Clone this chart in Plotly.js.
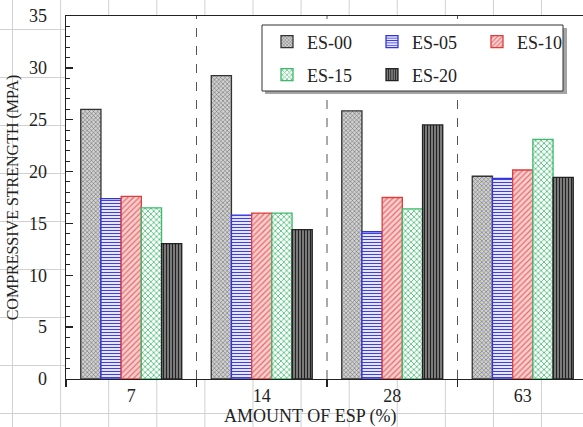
<!DOCTYPE html>
<html><head><meta charset="utf-8">
<script src="https://cdn.plot.ly/plotly-3.0.1.min.js"></script>
<style>
html,body{margin:0;padding:0;overflow:hidden;width:583px;height:427px;}
body{background-color:#fff;
background-image:linear-gradient(to right,#d0d0d0 1px,transparent 1px),linear-gradient(to bottom,#d0d0d0 1px,transparent 1px);
background-size:48.1px 48px;background-position:12px 29px;}
#chart{width:590px;height:427px;}
</style></head><body><div id="chart"></div><script>
// Data
const ages = ['7', '14', '28', '63'];
const seriesNames = ['ES-00', 'ES-05', 'ES-10', 'ES-15', 'ES-20'];
const es00 = [26.0, 29.25, 25.85, 19.55];
const es05 = [17.4, 15.8, 14.2, 19.35];
const es10 = [17.6, 16.0, 17.5, 20.15];
const es15 = [16.5, 16.0, 16.4, 23.1];
const es20 = [13.05, 14.4, 24.5, 19.45];
const yTicks = [0, 5, 10, 15, 20, 25, 30, 35];
const xTitle = 'AMOUNT OF ESP (%)';
const yTitle = 'COMPRESSIVE STRENGTH (MPA)';

const values = [es00, es05, es10, es15, es20];
const styles = [
  {line:'#333333', fg:'#5a5a5a', bg:'#d2d2d2', shape:'x', size:3, sol:0.3},
  {line:'#3333dd', fg:'#4040e0', bg:'#e4e4fa', shape:'-', size:3, sol:0.35},
  {line:'#e03c3c', fg:'#e86a6a', bg:'#f8cfcf', shape:'/', size:4, sol:0.3},
  {line:'#3cb96a', fg:'#55c27e', bg:'#ffffff', shape:'x', size:4, sol:0.4},
  {line:'#222222', fg:'#222222', bg:'#8c8c8c', shape:'|', size:3, sol:0.45}
];
const legendOf = ['legend', 'legend', 'legend', 'legend2', 'legend2'];

const traces = values.map((v, i) => ({
  type: 'bar', name: seriesNames[i], x: ages, y: v,
  legend: legendOf[i],
  marker: {
    color: styles[i].bg,
    line: {color: styles[i].line, width: 1.3},
    pattern: {shape: styles[i].shape, fgcolor: styles[i].fg, bgcolor: styles[i].bg,
              size: styles[i].size, solidity: styles[i].sol, fillmode: 'replace'}
  },
  hoverinfo: 'skip'
}));

const serif = 'Liberation Serif';
const W = 590, H = 427, ml = 66, mr = 2, mt = 16, mb = 48;
const pw = W - ml - mr, ph = H - mt - mb;
const px = v => (v - ml) / pw;
const py = v => (H - mb - v) / ph;

const shapes = [];
for (let i = 0; i < ages.length - 1; i++) {
  shapes.push({type:'line', xref:'x', yref:'paper', x0:i+0.5, x1:i+0.5, y0:0, y1:1,
    line:{color:'#555', width:1, dash:'dash'}, layer:'below'});
}
// legend shadow + box
shapes.push({type:'rect', xref:'paper', yref:'paper', x0:px(265), x1:px(567), y0:py(94), y1:py(28),
  fillcolor:'rgba(90,90,90,0.55)', line:{width:0}, layer:'above'});
shapes.push({type:'rect', xref:'paper', yref:'paper', x0:px(262), x1:px(563), y0:py(91), y1:py(25),
  fillcolor:'#ffffff', line:{color:'#333', width:1}, layer:'above'});

const legendBase = {orientation:'h', bgcolor:'rgba(0,0,0,0)', borderwidth:0,
  font:{family:serif, size:18, color:'#222'}, entrywidth:60, entrywidthmode:'pixels',
  xanchor:'left', yanchor:'middle', traceorder:'normal'};

const layout = {
  width: W, height: H,
  margin: {l: ml, r: mr, t: mt, b: mb},
  paper_bgcolor: 'rgba(0,0,0,0)', plot_bgcolor: '#ffffff',
  barmode: 'group', bargap: 0.226, bargroupgap: 0,
  font: {family: serif, color: '#222'},
  showlegend: true,
  legend: Object.assign({}, legendBase, {x: px(267), y: py(42)}),
  legend2: Object.assign({}, legendBase, {x: px(267), y: py(75)}),
  xaxis: {
    type: 'category', showline: true, linecolor: '#222', linewidth: 1.3, mirror: true,
    ticks: 'outside', tickson: 'boundaries', ticklen: 7, tickcolor: '#222', tickwidth: 1.3,
    tickfont: {family: serif, size: 18, color: '#222'},
    showgrid: false, zeroline: false, fixedrange: true
  },
  yaxis: {
    range: [0, 35], tickvals: yTicks, ticktext: yTicks.map(String),
    showline: true, linecolor: '#222', linewidth: 1.3, mirror: true,
    ticks: 'inside', ticklen: 7, tickcolor: '#222', tickwidth: 1.3,
    minor: {dtick: 1, ticks: 'inside', ticklen: 4, tickcolor: '#222', tickwidth: 1},
    tickfont: {family: serif, size: 18, color: '#222'}, ticklabelstandoff: 14,
    title: {text: yTitle, font: {family: serif, size: 16, color: '#222'}, standoff: 6},
    showgrid: false, zeroline: false, fixedrange: true
  },
  annotations: [{text: xTitle, xref: 'paper', yref: 'paper', x: px(310), y: py(416),
    xanchor: 'center', yanchor: 'middle', showarrow: false,
    font: {family: serif, size: 18, color: '#222'}}],
  shapes: shapes
};

Plotly.newPlot('chart', traces, layout, {displayModeBar: false, staticPlot: true});
</script></body></html>
